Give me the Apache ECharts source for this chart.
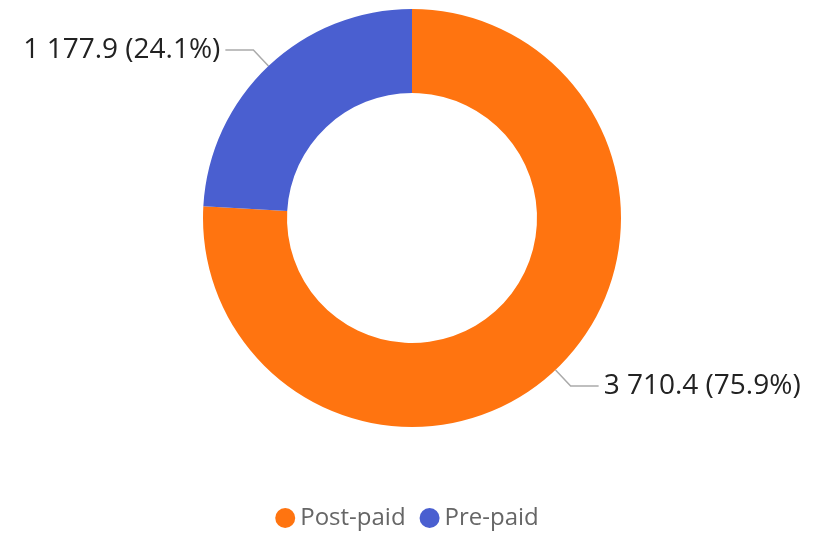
<!DOCTYPE html>
<html lang="en">
<head>
    <meta charset="UTF-8">
    <title>Post-paid vs Pre-paid</title>
    <script src="https://cdn.jsdelivr.net/npm/echarts@6/dist/echarts.min.js"></script>
    <style>
        body { margin: 0; background: #fff; }
        #main { width: 814px; height: 533px; }
    </style>
</head>
<body>
    <div id="main"></div>
    <script>
        // data
        const categories = ['Post-paid', 'Pre-paid'];
        const values = [3710.4, 1177.9];
        const colors = ['#ff7410', '#4a5fd0'];

        const total = values.reduce((a, b) => a + b, 0);
        const fmt = v => v.toFixed(1).replace(/\B(?=(\d{3})+(?!\d))/g, ' ');

        var myChart = echarts.init(document.getElementById('main'));
        var option = {
            color: colors,
            textStyle: { fontFamily: '"Open Sans", "Noto Sans", sans-serif' },
            legend: {
                bottom: -2,
                left: 'center',
                icon: 'circle',
                itemWidth: 20,
                itemHeight: 20,
                itemGap: 14,
                textStyle: { fontSize: 24, color: '#666' }
            },
            series: [{
                type: 'pie',
                center: [412, 218],
                radius: [125, 209],
                startAngle: 90,
                data: categories.map((c, i) => ({ name: c, value: values[i] })),
                label: {
                    fontSize: 28,
                    color: '#222',
                    formatter: p => fmt(p.value) + ' (' + (p.value / total * 100).toFixed(1) + '%)'
                },
                labelLine: {
                    length: 22,
                    length2: 28,
                    lineStyle: { color: '#aaa', width: 1.5 }
                },
                emphasis: { scale: false }
            }]
        };
        myChart.setOption(option);
    </script>
</body>
</html>
